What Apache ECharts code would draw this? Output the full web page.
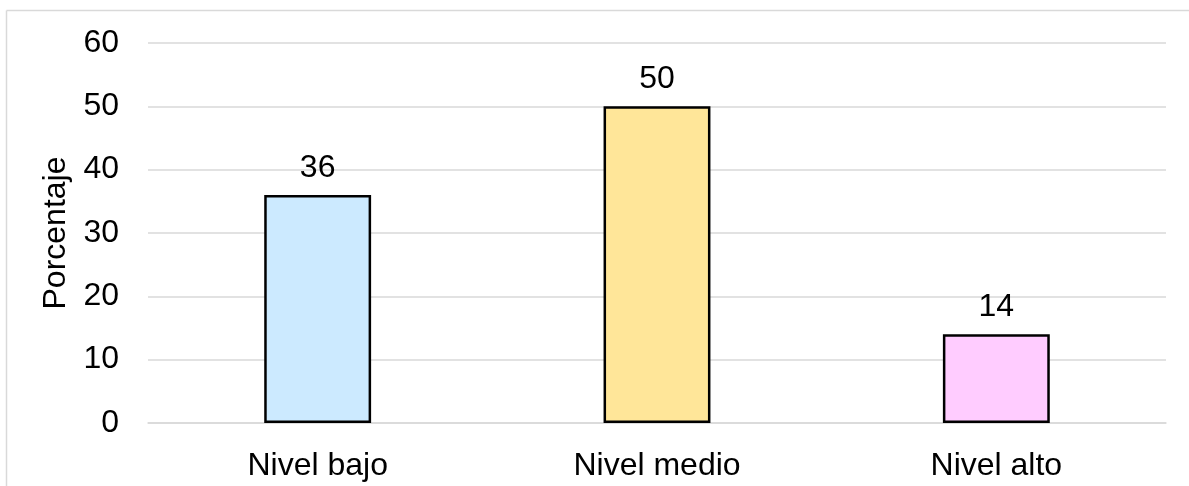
<!DOCTYPE html>
<html>
<head>
<meta charset="utf-8">
<script src="https://cdn.jsdelivr.net/npm/echarts@6/dist/echarts.min.js"></script>
<style>
  html, body { margin: 0; padding: 0; background: #fff; }
  #chart { width: 1189px; height: 486px; }
</style>
</head>
<body>
<div id="chart"></div>
<script>
// Distribution of students by level (percent)
const categories = ['Nivel bajo', 'Nivel medio', 'Nivel alto'];
const values = [36, 50, 14];
const barColors = ['#CCEAFF', '#FFE699', '#FFCCFF'];
const yTicks = { min: 0, max: 60, interval: 10 };

const FONT = '"Liberation Sans", Arial, sans-serif';
const FS = 32;

const chart = echarts.init(document.getElementById('chart'));
chart.setOption({
  backgroundColor: '#ffffff',
  animation: false,
  graphic: [
    // light outer frame (top and left edges)
    { type: 'line', shape: { x1: 6.5, y1: 10.5, x2: 1189, y2: 10.5 }, style: { stroke: '#D9D9D9', lineWidth: 1.5 } },
    { type: 'line', shape: { x1: 6.5, y1: 10.5, x2: 6.5, y2: 486 }, style: { stroke: '#D9D9D9', lineWidth: 1.5 } }
  ],
  grid: { left: 148, right: 23, top: 43, bottom: 63 },
  xAxis: {
    type: 'category',
    data: categories,
    axisTick: { show: false },
    axisLine: { lineStyle: { color: '#D9D9D9', width: 1.5 } },
    axisLabel: { color: '#000', fontFamily: FONT, fontSize: FS, margin: 27 }
  },
  yAxis: {
    type: 'value',
    min: yTicks.min,
    max: yTicks.max,
    interval: yTicks.interval,
    name: 'Porcentaje',
    nameLocation: 'middle',
    nameGap: 74,
    nameTextStyle: { color: '#000', fontFamily: FONT, fontSize: FS },
    axisLine: { show: false },
    axisTick: { show: false },
    axisLabel: { color: '#000', fontFamily: FONT, fontSize: FS, margin: 29 },
    splitLine: { lineStyle: { color: '#D9D9D9', width: 1.5 } }
  },
  series: [{
    type: 'bar',
    data: values.map((v, i) => ({ value: v, itemStyle: { color: barColors[i] } })),
    barWidth: '31.5%',
    itemStyle: { borderColor: '#000', borderWidth: 2.5 },
    label: {
      show: true,
      position: 'top',
      distance: 11,
      color: '#000',
      fontFamily: FONT,
      fontSize: FS
    }
  }]
});
</script>
</body>
</html>
